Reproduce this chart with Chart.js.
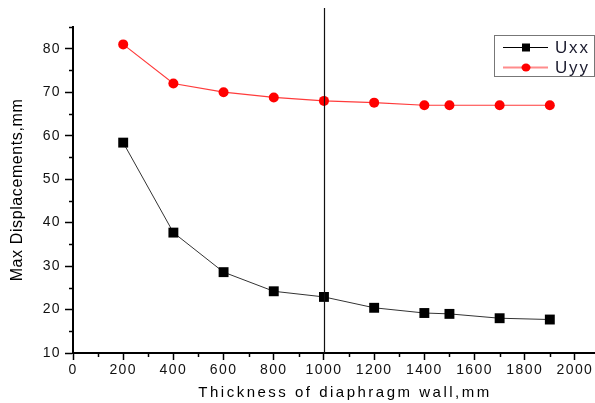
<!DOCTYPE html>
<html>
<head>
<meta charset="utf-8">
<script src="https://cdn.jsdelivr.net/npm/chart.js@4.4.1/dist/chart.umd.min.js"></script>
<style>
  html, body { margin: 0; padding: 0; background: #fff; }
</style>
</head>
<body>
<canvas id="dispChart" width="595" height="403"></canvas>
<script>
// data
const thickness = [200, 400, 600, 800, 1000, 1200, 1400, 1500, 1700, 1900];
const uxx = [58.4, 37.7, 28.6, 24.2, 22.9, 20.4, 19.2, 19.0, 18.0, 17.7];
const uyy = [81.0, 72.0, 70.0, 68.8, 68.0, 67.6, 67.0, 67.0, 67.0, 67.0];
const xTicks = [0, 200, 400, 600, 800, 1000, 1200, 1400, 1600, 1800, 2000];
const yTicks = [10, 20, 30, 40, 50, 60, 70, 80];
const xMinor = [100, 300, 500, 700, 900, 1100, 1300, 1500, 1700, 1900];
const yMinor = [15, 25, 35, 45, 55, 65, 75, 85];
const markAt = 1000;

const FONT = "'Liberation Sans', Arial, sans-serif";

// minor ticks, marker line at 1000, legend box, axis titles
const extras = {
  id: 'extras',
  beforeDraw(chart) {
    chart.ctx.letterSpacing = '1.4px';
  },
  afterDraw(chart) {
    const ctx = chart.ctx;
    const xs = chart.scales.x, ys = chart.scales.y;
    const area = chart.chartArea;
    ctx.save();
    ctx.strokeStyle = '#000';
    ctx.lineWidth = 1.5;
    yMinor.forEach(v => {
      const py = Math.round(ys.getPixelForValue(v)) + 0.5;
      ctx.beginPath(); ctx.moveTo(area.left - 4, py); ctx.lineTo(area.left, py); ctx.stroke();
    });
    xMinor.forEach(v => {
      const px = Math.round(xs.getPixelForValue(v)) + 0.5;
      ctx.beginPath(); ctx.moveTo(px, area.bottom); ctx.lineTo(px, area.bottom + 4); ctx.stroke();
    });

    // vertical line at 1000
    const mx = Math.round(xs.getPixelForValue(markAt)) + 0.5;
    ctx.strokeStyle = '#111';
    ctx.lineWidth = 1.2;
    ctx.beginPath(); ctx.moveTo(mx, 8); ctx.lineTo(mx, area.bottom); ctx.stroke();

    // legend
    ctx.strokeStyle = '#777';
    ctx.lineWidth = 1;
    ctx.strokeRect(494.5, 35.5, 100, 41);
    const ds = chart.data.datasets;
    const rows = [47.5, 67.5];
    ds.forEach((d, i) => {
      const y = rows[i];
      ctx.strokeStyle = i === 0 ? '#000' : '#ff8c8c';
      ctx.lineWidth = i === 0 ? 1 : 2;
      ctx.beginPath(); ctx.moveTo(503, y); ctx.lineTo(548, y); ctx.stroke();
      ctx.fillStyle = d.pointBackgroundColor;
      if (d.pointStyle === 'rect') {
        ctx.fillRect(522, y - 4, 8, 8);
      } else {
        ctx.beginPath(); ctx.ellipse(526, y, 4.5, 4, 0, 0, Math.PI * 2); ctx.fill();
      }
      ctx.fillStyle = '#1b1b2e';
      ctx.font = '17px ' + FONT;
      ctx.letterSpacing = '1.8px';
      ctx.textAlign = 'left';
      ctx.textBaseline = 'middle';
      ctx.fillText(d.label, 555, y + 1);
    });

    // axis titles
    ctx.fillStyle = '#000';
    ctx.textAlign = 'center';
    ctx.textBaseline = 'middle';
    ctx.font = '15px ' + FONT;
    ctx.letterSpacing = '2.5px';
    ctx.fillText('Thickness of diaphragm wall,mm', 345, 393);

    ctx.translate(18, (area.top + area.bottom) / 2);
    ctx.rotate(-Math.PI / 2);
    ctx.font = '16px ' + FONT;
    ctx.letterSpacing = '0.6px';
    ctx.fillText('Max Displacements,mm', 0, 0);
    ctx.restore();
  }
};

new Chart(document.getElementById('dispChart').getContext('2d'), {
  type: 'line',
  data: {
    datasets: [{
      label: 'Uxx',
      data: thickness.map((t, i) => ({ x: t, y: uxx[i] })),
      borderColor: '#333',
      borderWidth: 1,
      pointStyle: 'rect',
      pointRadius: 7,
      pointBackgroundColor: '#000',
      pointBorderColor: '#000',
      pointBorderWidth: 0,
      tension: 0
    }, {
      label: 'Uyy',
      data: thickness.map((t, i) => ({ x: t, y: uyy[i] })),
      borderColor: '#ff3b3b',
      borderWidth: 1.2,
      pointStyle: 'circle',
      pointRadius: 5,
      pointBackgroundColor: '#ff0000',
      pointBorderColor: '#ff0000',
      pointBorderWidth: 0,
      tension: 0
    }]
  },
  options: {
    responsive: false,
    animation: false,
    layout: { autoPadding: false, padding: { top: 27, right: 0, left: 0, bottom: 0 } },
    plugins: { legend: { display: false }, tooltip: { enabled: false } },
    scales: {
      x: {
        type: 'linear',
        min: 0,
        max: 2080,
        afterBuildTicks: s => { s.ticks = xTicks.map(v => ({ value: v })); },
        afterFit: s => { s.height = 50; s.paddingLeft = 0; s.paddingRight = 0; },
        grid: { drawOnChartArea: false, tickLength: 7, tickColor: '#000', tickWidth: 1.5 },
        border: { color: '#000', width: 2 },
        ticks: { color: '#111', font: { family: FONT, size: 14 }, padding: 2, maxRotation: 0, callback: v => String(v) }
      },
      y: {
        min: 10,
        max: 85,
        afterBuildTicks: s => { s.ticks = yTicks.map(v => ({ value: v })); },
        afterFit: s => { s.width = 73; s.paddingTop = 0; s.paddingBottom = 0; },
        grid: { drawOnChartArea: false, tickLength: 8, tickColor: '#000', tickWidth: 1.5 },
        border: { color: '#000', width: 2 },
        ticks: { color: '#111', font: { family: FONT, size: 14 }, padding: 4 }
      }
    }
  },
  plugins: [extras]
});
</script>
</body>
</html>
